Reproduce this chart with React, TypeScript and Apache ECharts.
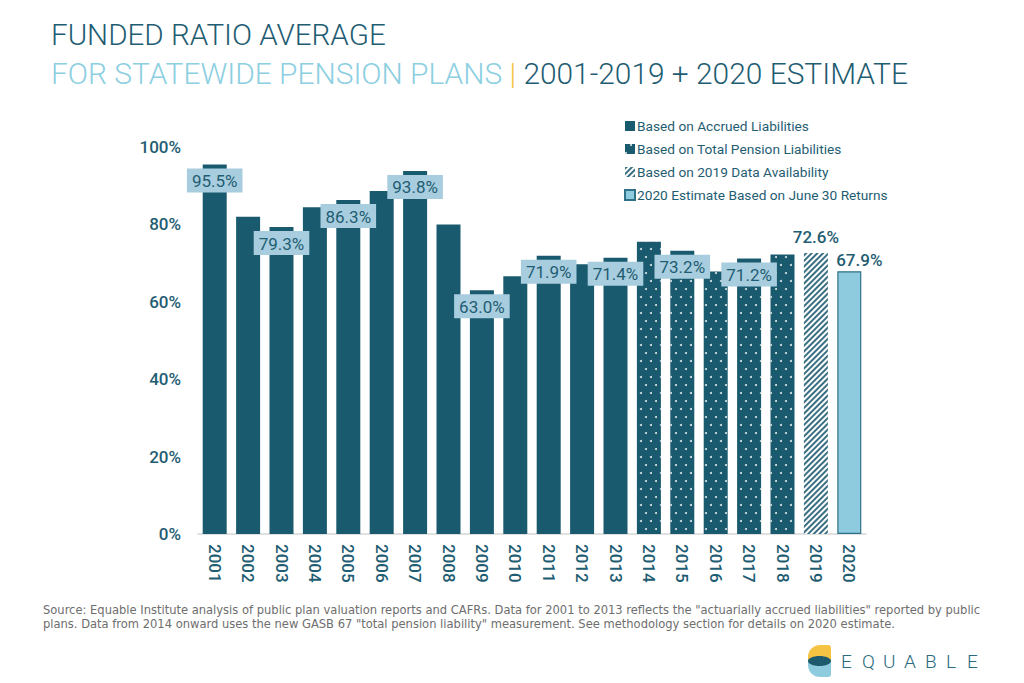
import React, { useEffect, useRef } from "react";
import * as echarts from "echarts";

// Funded ratio (%) by fiscal year
const years = [
  "2001", "2002", "2003", "2004", "2005", "2006", "2007", "2008", "2009", "2010",
  "2011", "2012", "2013", "2014", "2015", "2016", "2017", "2018", "2019", "2020",
];
const accruedValues = [95.5, 82.0, 79.3, 84.4, 86.3, 88.6, 93.8, 80.0, 63.0, 66.6, 71.9, 69.7, 71.4]; // 2001-2013
const totalPensionValues = [75.5, 73.2, 67.8, 71.2, 72.2]; // 2014-2018
const availabilityValues = [72.6]; // 2019
const estimateValues = [67.9]; // 2020
const boxedLabelYears = ["2001", "2003", "2005", "2007", "2009", "2011", "2013", "2015", "2017"];
const yTicks = [0, 20, 40, 60, 80, 100];

const seriesNames = [
  "Based on Accrued Liabilities",
  "Based on Total Pension Liabilities",
  "Based on 2019 Data Availability",
  "2020 Estimate Based on June 30 Returns",
];

const TEAL = "#1a5a6f";
const TEXT_TEAL = "#1f5d72";
const LIGHT_BLUE = "#8ecbdf";
const LABEL_BG = "#a8cddf";
const FONT = "Roboto, 'Noto Sans', sans-serif";
const BRAND = ["E", "Q", "U", "A", "B", "L", "E"];

// Place a group's values at their years, leaving the other categories empty
function placeAt(values: number[], startIndex: number) {
  return years.map((y, i) => {
    const k = i - startIndex;
    if (k < 0 || k >= values.length) return "-";
    const v = values[k];
    return boxedLabelYears.includes(y) ? { value: v, label: { show: true } } : v;
  });
}

const fmt = (p: any) => Number(p.value).toFixed(1) + "%";

const boxedLabel = {
  show: false,
  position: "insideTop",
  distance: 4,
  backgroundColor: LABEL_BG,
  padding: [4, 5, 3, 5],
  color: TEXT_TEAL,
  fontSize: 17,
  fontFamily: FONT,
  formatter: fmt,
};

export default function App() {
  const ref = useRef<HTMLDivElement>(null);

  useEffect(() => {
    if (!ref.current) return;
    const chart = echarts.init(ref.current, null, { renderer: "svg" });

    const option: any = {
      animation: false,
      backgroundColor: "#ffffff",
      textStyle: { fontFamily: FONT },
      grid: { left: 198, right: 158, top: 147, bottom: 149, containLabel: false },
      legend: {
        orient: "vertical",
        left: 619,
        top: 114,
        itemWidth: 10,
        itemHeight: 10,
        itemGap: 9,
        icon: "rect",
        textStyle: { color: TEXT_TEAL, fontSize: 13.7, fontFamily: FONT, padding: [0, 0, 0, -3] },
        data: seriesNames,
      },
      xAxis: {
        type: "category",
        data: years,
        axisLine: { show: true, lineStyle: { color: "#d6d6d6", width: 1.5 } },
        axisTick: { show: false },
        axisLabel: {
          rotate: -90,
          margin: 10,
          color: TEXT_TEAL,
          fontSize: 17,
          fontWeight: 500,
          fontFamily: FONT,
        },
      },
      yAxis: {
        type: "value",
        min: yTicks[0],
        max: yTicks[yTicks.length - 1],
        interval: 20,
        splitLine: { show: false },
        axisLine: { show: false },
        axisTick: { show: false },
        axisLabel: {
          formatter: "{value}%",
          margin: 17,
          color: TEXT_TEAL,
          fontSize: 17,
          fontWeight: 500,
          fontFamily: FONT,
        },
      },
      series: [
        {
          name: seriesNames[0],
          type: "bar",
          stack: "ratio",
          barWidth: 24,
          itemStyle: { color: TEAL },
          label: boxedLabel,
          data: placeAt(accruedValues, 0),
        },
        {
          name: seriesNames[1],
          type: "bar",
          stack: "ratio",
          barWidth: 24,
          itemStyle: {
            color: TEAL,
            decal: {
              symbol: "circle",
              symbolSize: 1,
              color: "rgba(255,255,255,0.85)",
              dashArrayX: [[1.6, 7.4], [0, 4.5, 1.6, 2.9]],
              dashArrayY: [1.6, 5.4],
            },
          },
          label: boxedLabel,
          data: placeAt(totalPensionValues, 13),
        },
        {
          name: seriesNames[2],
          type: "bar",
          stack: "ratio",
          barWidth: 24,
          itemStyle: {
            color: "#ffffff",
            decal: {
              symbol: "rect",
              symbolSize: 1,
              color: "#3a6f83",
              dashArrayX: [1, 0],
              dashArrayY: [1.8, 1.8],
              rotation: -Math.PI / 4,
            },
          },
          label: {
            show: true,
            position: "top",
            distance: 8,
            color: TEXT_TEAL,
            fontSize: 17,
            fontWeight: 500,
            fontFamily: FONT,
            formatter: fmt,
          },
          data: placeAt(availabilityValues, 18),
        },
        {
          name: seriesNames[3],
          type: "bar",
          stack: "ratio",
          barWidth: 24,
          itemStyle: { color: LIGHT_BLUE, borderColor: "#2f7189", borderWidth: 1.2 },
          label: {
            show: true,
            position: "top",
            distance: 3,
            offset: [10, 0],
            color: TEXT_TEAL,
            fontSize: 17,
            fontWeight: 500,
            fontFamily: FONT,
            formatter: fmt,
          },
          data: placeAt(estimateValues, 19),
        },
      ],
      graphic: [
        {
          type: "text",
          left: 51,
          top: 20,
          style: {
            text: "FUNDED RATIO AVERAGE",
            fill: TEXT_TEAL,
            font: `300 29.6px ${FONT}`,
          },
        },
        {
          type: "text",
          left: 51,
          top: 58,
          style: {
            text: "{a|FOR STATEWIDE PENSION PLANS }{b||}{c| 2001-2019 + 2020 ESTIMATE}",
            font: `300 29.9px ${FONT}`,
            rich: {
              a: { fill: "#8ccfe1", fontSize: 29.9, fontWeight: 300, fontFamily: FONT },
              b: { fill: "#f5c343", fontSize: 29.9, fontWeight: 300, fontFamily: FONT },
              c: { fill: TEXT_TEAL, fontSize: 29.9, fontWeight: 300, fontFamily: FONT },
            },
          },
        },
        {
          type: "text",
          left: 43,
          top: 602,
          style: {
            text:
              "Source: Equable Institute analysis of public plan valuation reports and CAFRs. Data for 2001 to 2013 reflects the \"actuarially accrued liabilities\" reported by public\n" +
              "plans. Data from 2014 onward uses the new GASB 67 \"total pension liability\" measurement. See methodology section for details on 2020 estimate.",
            fill: "#6e6e6e",
            font: "12.8px 'Liberation Sans Narrow', 'DejaVu Sans Condensed', sans-serif",
            lineHeight: 14,
          },
        },
        // brand mark
        {
          type: "group",
          left: 808,
          top: 645,
          children: [
            { type: "rect", shape: { x: 0, y: 0, width: 23, height: 16, r: [12, 3, 0, 0] }, style: { fill: "#f5c343" } },
            { type: "rect", shape: { x: 0, y: 16, width: 23, height: 16, r: [0, 0, 3, 12] }, style: { fill: "#8ecbdf" } },
            { type: "ellipse", shape: { cx: 11.5, cy: 16, rx: 11.5, ry: 5 }, style: { fill: "#1d5a6e" } },
          ],
        },
        ...BRAND.map((ch, i) => ({
          type: "text",
          x: 841 + i * 21,
          y: 652,
          style: {
            text: ch,
            fill: "#2a6a7e",
            font: `300 19px ${FONT}`,
          },
        })),
      ],
    };

    chart.setOption(option);
    return () => chart.dispose();
  }, []);

  return (
    <div
      ref={ref}
      style={{ position: "fixed", left: 0, top: 0, width: 1024, height: 683 }}
    />
  );
}
